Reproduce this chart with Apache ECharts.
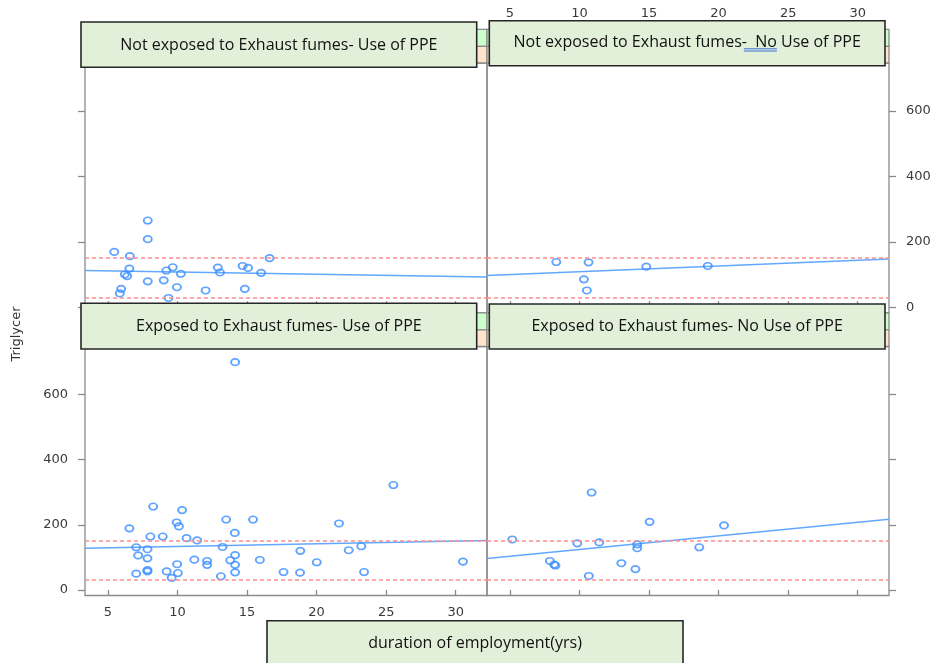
<!DOCTYPE html>
<html><head><meta charset="utf-8">
<script src="https://cdn.jsdelivr.net/npm/echarts@6/dist/echarts.min.js"></script>
<style>html,body{margin:0;padding:0;background:#fff}#c{width:936px;height:663px}</style>
</head><body><div id="c"></div>
<script>
// ---- data ----
const panelTitles = [
  'Not exposed to Exhaust fumes- Use of PPE',
  'Not exposed to Exhaust fumes-  No Use of PPE',
  'Exposed to Exhaust fumes- Use of PPE',
  'Exposed to Exhaust fumes- No Use of PPE'
];
const xTitle = 'duration of employment(yrs)';
const yTitle = 'Triglycer';
const xTicks = [5, 10, 15, 20, 25, 30];
const yTicks = [0, 200, 400, 600];
const refLines = [30, 150];
const xRange = [3.35, 32.25];
const yRange = [-17, 747];

const notExpUse = [[5.45,169],[6.57,156],[6.54,118],[6.21,100],[6.38,95],[5.95,56],[5.85,42],[7.86,265],[7.86,208],[7.86,79],[9.01,82],[9.20,112],[9.66,122],[10.24,102],[9.96,61],[9.35,28],[12.02,51],[12.90,121],[13.05,106],[14.68,126],[15.07,120],[16.01,105],[14.84,56],[16.62,150]];
const notExpNoUse = [[8.33,138],[10.65,137],[10.32,85],[10.53,51],[14.80,124],[19.22,126]];
const expUse = [[14.14,699],[8.25,256],[10.33,245],[6.54,189],[9.94,207],[10.10,195],[13.50,216],[15.43,216],[14.12,175],[8.05,164],[8.94,164],[10.65,159],[11.41,152],[13.24,132],[7.03,131],[7.84,125],[7.17,106],[7.84,97],[9.97,79],[11.21,93],[12.13,89],[12.13,77],[13.79,91],[14.14,107],[14.14,77],[15.92,92],[14.14,54],[13.12,42],[7.03,50],[7.84,61],[7.84,57],[9.22,57],[10.03,52],[9.58,37],[18.83,120],[17.62,55],[18.81,53],[20.01,85],[21.61,204],[22.31,122],[23.21,134],[23.41,55],[25.52,322],[30.52,87]];
const expNoUse = [[5.17,155],[10.87,299],[7.87,89],[8.18,78],[8.27,75],[9.84,143],[11.42,146],[10.67,43],[13.01,82],[14.02,64],[14.15,140],[14.15,128],[15.04,209],[18.61,131],[20.39,198]];

// fitted line values at the left and right ends of the x range
const fitNotExpUse = [112, 92.5];
const fitNotExpNoUse = [97, 147];
const fitExpUse = [128, 151.5];
const fitExpNoUse = [96.5, 217];

// ---- layout ----
const G = [
  {left: 85, top: 63, width: 402, height: 249.7},
  {left: 487, top: 63, width: 402, height: 249.7},
  {left: 85, top: 346.5, width: 402, height: 249},
  {left: 487, top: 346.5, width: 402, height: 249}
];
const gray = '#8a8a8a';
const labelFont = {fontFamily: 'DejaVu Sans', fontSize: 13, color: '#3a3a3a'};

function xAx(i, pos, showLabel) {
  return {
    type: 'value', gridIndex: i, min: xRange[0], max: xRange[1], position: pos,
    offset: pos === 'top' ? 33.5 : 0,
    axisLine: {show: false}, splitLine: {show: false},
    axisTick: {show: true, length: 6, customValues: xTicks, lineStyle: {color: gray, width: 1.3}},
    axisLabel: Object.assign({show: showLabel, customValues: xTicks, margin: pos === 'top' ? 9 : 11}, labelFont)
  };
}
function yAx(i, pos, showLabel) {
  return {
    type: 'value', gridIndex: i, min: yRange[0], max: yRange[1], position: pos,
    axisLine: {show: false}, splitLine: {show: false},
    axisTick: {show: true, length: 7, customValues: yTicks, lineStyle: {color: gray, width: 1.3}},
    axisLabel: Object.assign({show: showLabel, customValues: yTicks, margin: 17}, labelFont)
  };
}

const panelData = [notExpUse, notExpNoUse, expUse, expNoUse];
const fits = [fitNotExpUse, fitNotExpNoUse, fitExpUse, fitExpNoUse];
const series = [];
panelData.forEach((d, i) => {
  series.push({
    type: 'scatter', xAxisIndex: i, yAxisIndex: i, data: d,
    symbol: 'circle', symbolSize: [8, 6.5],
    itemStyle: {color: 'rgba(0,0,0,0)', borderColor: '#3a8dff', borderWidth: 1.8},
    markLine: {
      silent: true, symbol: 'none', label: {show: false},
      lineStyle: {color: '#ff8c8c', type: [4, 3], width: 1.6},
      data: refLines.map(v => ({yAxis: v}))
    },
    z: 3
  });
  series.push({
    type: 'line', xAxisIndex: i, yAxisIndex: i, showSymbol: false,
    data: [[xRange[0], fits[i][0]], [xRange[1], fits[i][1]]],
    lineStyle: {color: '#62a8ff', width: 1.5}, z: 2
  });
});

// strips
const graphics = [];
G.forEach(g => {
  const top = g.top - 33.7;
  graphics.push({type: 'rect', z: 10, shape: {x: g.left, y: top, width: g.width, height: 17},
    style: {fill: '#ccffcc', stroke: gray, lineWidth: 1.3}});
  graphics.push({type: 'rect', z: 10, shape: {x: g.left, y: top + 17, width: g.width, height: 16.7},
    style: {fill: '#ffe5cc', stroke: gray, lineWidth: 1.3}});
});

// annotation boxes
const boxes = [
  {x: 81, y: 22, w: 395.7, h: 45.3, ty: 45},
  {x: 489.3, y: 20.7, w: 395.7, h: 45, ty: 42.5},
  {x: 81, y: 303.3, w: 395.7, h: 45.7, ty: 326.7},
  {x: 489.3, y: 304, w: 395.7, h: 45, ty: 326.7}
];
const titleFont = '16px "Open Sans"';
boxes.forEach((b, i) => {
  graphics.push({type: 'rect', z: 100, shape: {x: b.x, y: b.y, width: b.w, height: b.h},
    style: {fill: '#e2f0d9', stroke: '#262626', lineWidth: 1.6}});
  graphics.push({type: 'text', z: 101, x: b.x + b.w / 2, y: b.ty,
    style: {text: panelTitles[i], font: titleFont, fill: '#111', textAlign: 'center', textVerticalAlign: 'middle'}});
});
// proofing underline under "No" in the second title
(function () {
  const ctx = document.createElement('canvas').getContext('2d');
  ctx.font = titleFont;
  const t = panelTitles[1];
  const W = ctx.measureText(t).width;
  const start = boxes[1].x + boxes[1].w / 2 - W / 2;
  const a = start + ctx.measureText('Not exposed to Exhaust fumes-').width - 3;
  const e = start + ctx.measureText('Not exposed to Exhaust fumes-  No').width;
  [48.8, 51].forEach(yy => graphics.push({type: 'line', z: 102,
    shape: {x1: a, y1: yy, x2: e, y2: yy}, style: {stroke: '#3d6fd6', lineWidth: 1}}));
})();
// x title box
graphics.push({type: 'rect', z: 100, shape: {x: 267, y: 620.7, width: 416, height: 60},
  style: {fill: '#e2f0d9', stroke: '#262626', lineWidth: 1.6}});
graphics.push({type: 'text', z: 101, x: 475, y: 643,
  style: {text: xTitle, font: titleFont, fill: '#111', textAlign: 'center', textVerticalAlign: 'middle'}});
// y title
graphics.push({type: 'text', z: 101, x: 17, y: 334, rotation: Math.PI / 2,
  style: {text: yTitle, font: '13px "DejaVu Sans"', fill: '#333', textAlign: 'center', textVerticalAlign: 'middle'}});

const chart = echarts.init(document.getElementById('c'), null, {renderer: 'canvas'});
chart.setOption({
  animation: false,
  backgroundColor: '#fff',
  grid: G.map(g => Object.assign({show: true, borderColor: gray, borderWidth: 1.3, backgroundColor: 'transparent'}, g)),
  xAxis: [xAx(0, 'top', false), xAx(1, 'top', true), xAx(2, 'bottom', true), xAx(3, 'bottom', false)],
  yAxis: [yAx(0, 'left', false), yAx(1, 'right', true), yAx(2, 'left', true), yAx(3, 'right', false)],
  series: series,
  graphic: graphics
});
</script>
</body></html>
